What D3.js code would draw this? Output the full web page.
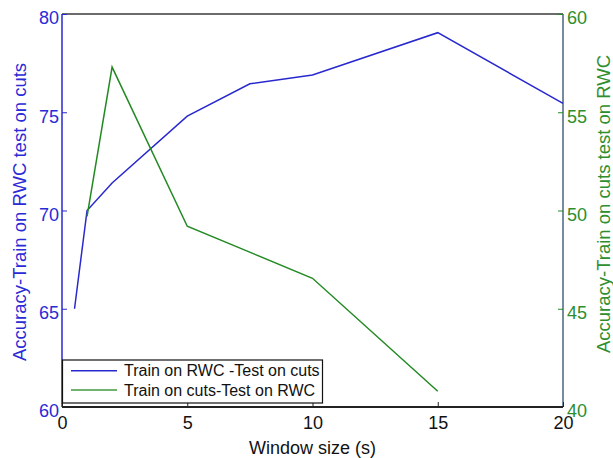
<!DOCTYPE html>
<html>
<head>
<meta charset="utf-8">
<script src="https://cdn.jsdelivr.net/npm/d3@7"></script>
<style>
  html, body { margin: 0; padding: 0; background: #fff; }
  svg { display: block; font-family: "Liberation Sans", Arial, sans-serif; }
</style>
</head>
<body>
<svg id="chart" width="613" height="458"></svg>
<script>
// ---- data ----
const blueX = [0.5, 1, 2, 5, 7.5, 10, 15, 20];
const blueY = [65, 70, 71.4, 74.8, 76.45, 76.9, 79.05, 75.45];
const greenX = [1, 2, 5, 10, 15];
const greenY = [49.7, 57.3, 49.2, 46.55, 40.8];
const xTicks = [0, 5, 10, 15, 20];
const leftTicks = [60, 65, 70, 75, 80];
const rightTicks = [40, 45, 50, 55, 60];
const seriesNames = ["Train on RWC -Test on cuts", "Train on cuts-Test on RWC"];
const xTitle = "Window size (s)";
const leftTitle = "Accuracy-Train on RWC test on cuts";
const rightTitle = "Accuracy-Train on cuts test on RWC";

// ---- style ----
const BLUE = "#2828cf";
const GREEN = "#238a23";
const BLUE_TXT = "#2a2ad6";
const GREEN_TXT = "#2e8e2e";

const svg = d3.select("#chart");
const L = 62, R = 563, T = 14, B = 407;

const x = d3.scaleLinear().domain([0, 20]).range([L, R]);
const yL = d3.scaleLinear().domain([60, 80]).range([B, T]);
const yR = d3.scaleLinear().domain([40, 60]).range([B, T]);

// box lines
svg.append("line").attr("x1", L).attr("x2", R).attr("y1", T).attr("y2", T)
  .attr("stroke", "#3a3a3a").attr("stroke-width", 1.5);
svg.append("line").attr("x1", R).attr("x2", R).attr("y1", T).attr("y2", B)
  .attr("stroke", "#4a6580").attr("stroke-width", 1.5);
svg.append("line").attr("x1", L).attr("x2", L).attr("y1", T).attr("y2", B)
  .attr("stroke", BLUE).attr("stroke-width", 1.5);

// left axis (ticks inward)
const gL = svg.append("g").attr("transform", `translate(${L},0)`)
  .call(d3.axisRight(yL).tickValues(leftTicks).tickSize(5).tickFormat(d3.format("d")));
gL.select(".domain").remove();
gL.selectAll(".tick line").attr("stroke", BLUE);
gL.selectAll(".tick text").attr("x", -3).attr("dy", "0.55em").attr("text-anchor", "end")
  .attr("fill", BLUE_TXT).style("font-size", "18px").style("font-family", "Liberation Sans, Arial, sans-serif");

// right axis (ticks inward)
const gR = svg.append("g").attr("transform", `translate(${R},0)`)
  .call(d3.axisLeft(yR).tickValues(rightTicks).tickSize(5).tickFormat(d3.format("d")));
gR.select(".domain").remove();
gR.selectAll(".tick line").attr("stroke", GREEN);
gR.selectAll(".tick text").attr("x", 4).attr("dy", "0.55em").attr("text-anchor", "start")
  .attr("fill", GREEN_TXT).style("font-size", "18px").style("font-family", "Liberation Sans, Arial, sans-serif");

// bottom axis (ticks inward)
const gB = svg.append("g").attr("transform", `translate(0,${B})`)
  .call(d3.axisTop(x).tickValues(xTicks).tickSize(5).tickFormat(d3.format("d")));
gB.select(".domain").remove();
gB.selectAll(".tick line").attr("stroke", "#222");
gB.selectAll(".tick text").attr("y", 9).attr("dy", "0.71em")
  .attr("fill", "#111").style("font-size", "18px").style("font-family", "Liberation Sans, Arial, sans-serif");
svg.append("line").attr("x1", L).attr("x2", R).attr("y1", B).attr("y2", B)
  .attr("stroke", "#222").attr("stroke-width", 2);

// lines
const lineL = d3.line().x(d => x(d[0])).y(d => yL(d[1]));
const lineR = d3.line().x(d => x(d[0])).y(d => yR(d[1]));
svg.append("path").datum(blueX.map((v, i) => [v, blueY[i]]))
  .attr("d", lineL).attr("fill", "none").attr("stroke", BLUE).attr("stroke-width", 1.5);
svg.append("path").datum(greenX.map((v, i) => [v, greenY[i]]))
  .attr("d", lineR).attr("fill", "none").attr("stroke", GREEN).attr("stroke-width", 1.5);

// legend
const lg = svg.append("g");
lg.append("rect").attr("x", L + 0.5).attr("y", 360).attr("width", 260).attr("height", 43)
  .attr("fill", "#fff").attr("stroke", "#111").attr("stroke-width", 1.2);
const lgColors = [BLUE, "#3f9a3f"];
seriesNames.forEach((name, i) => {
  const yy = 370.7 + i * 19.3;
  lg.append("line").attr("x1", 71).attr("x2", 117).attr("y1", yy).attr("y2", yy)
    .attr("stroke", lgColors[i]).attr("stroke-width", 1.6);
  lg.append("text").attr("x", 124).attr("y", yy).attr("dy", "0.36em")
    .attr("fill", "#111").style("font-size", "16px").text(name);
});

// titles
svg.append("text").attr("x", (L + R) / 2).attr("y", 454).attr("text-anchor", "middle")
  .attr("fill", "#111").style("font-size", "18px").text(xTitle);
svg.append("text").attr("transform", `translate(26,212) rotate(-90)`).attr("text-anchor", "middle")
  .attr("fill", BLUE_TXT).style("font-size", "18.5px").text(leftTitle);
svg.append("text").attr("transform", `translate(610,204) rotate(-90)`).attr("text-anchor", "middle")
  .attr("fill", GREEN_TXT).style("font-size", "18.5px").text(rightTitle);
</script>
</body>
</html>
